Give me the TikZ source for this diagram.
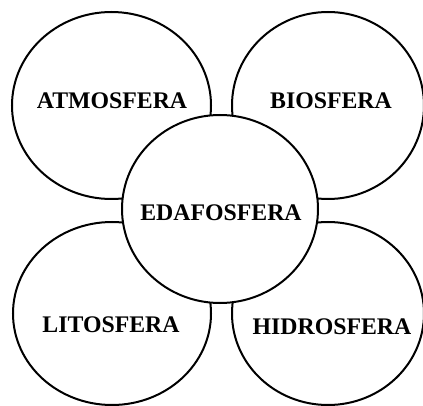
\documentclass[tikz,border=0pt]{standalone}
\usepackage{fontspec}
\setmainfont{Liberation Serif}
\usetikzlibrary{shapes.geometric}
\begin{document}
\begin{tikzpicture}[x=1pt,y=-1pt,
  sphere/.style={ellipse, draw=black, fill=white, line width=2pt, inner sep=0pt},
  lbl/.style={font=\fontsize{23.8}{26}\selectfont\bfseries, inner sep=0pt}]
\useasboundingbox[fill=white] (0,0) rectangle (423,406);
\node[sphere, minimum width=199pt, minimum height=187pt] (atm) at (111.5,105.5) {};
\node[sphere, minimum width=192pt, minimum height=187pt] (bio) at (328,105.5) {};
\node[sphere, minimum width=198pt, minimum height=183pt] (lit) at (112,313.5) {};
\node[sphere, minimum width=192pt, minimum height=183pt] (hid) at (328,313.5) {};
\node[sphere, minimum width=196pt, minimum height=188pt] (eda) at (220,209) {};
\node[lbl] (tatm) at (112,100.5) {ATMOSFERA};
\node[lbl] (tbio) at (331,100.5) {BIOSFERA};
\node[lbl] (teda) at (221,213) {EDAFOSFERA};
\node[lbl] (tlit) at (111,324.5) {LITOSFERA};
\node[lbl] (thid) at (332,327) {HIDROSFERA};
\end{tikzpicture}
\end{document}
